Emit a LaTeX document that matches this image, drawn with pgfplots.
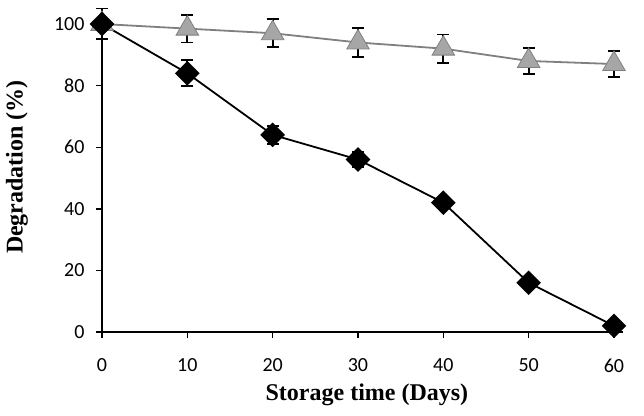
\documentclass[border=0pt]{standalone}
\usepackage{pgfplots}
\pgfplotsset{compat=1.18}
\usepackage{fontspec}
\setmainfont{Liberation Serif}
\newfontfamily\tickfont{Carlito}
\definecolor{trifill}{RGB}{166,166,166}
\definecolor{triline}{RGB}{128,128,128}

\begin{document}
\begin{tikzpicture}
\begin{axis}[
    name=ax,
    scale only axis,
    width=520.5pt, height=308pt,
    xmin=0, xmax=61, ymin=0, ymax=100,
    axis lines=left,
    axis line style={-, line width=1.4pt},
    xtick={0,10,...,60}, ytick={0,20,...,100},
    tick align=outside,
    major tick length=6pt,
    tick style={line width=1.4pt, black},
    ticklabel style={font=\tickfont\fontsize{20}{24}\selectfont, /pgf/number format/assume math mode=true},
    xticklabel style={yshift=-17pt},
    yticklabel style={xshift=-8pt},
    xlabel={Storage time (Days)},
    ylabel={Degradation (\%)},
    label style={font=\bfseries\fontsize{24}{28}\selectfont},
    xlabel style={at={(axis description cs:0.509,-0.2045)}, anchor=center},
    ylabel style={at={(axis description cs:-0.1633,0.5357)}, anchor=center},
    clip=false,
    error bars/y dir=both,
    error bars/y explicit,
    error bars/error mark=|,
    error bars/error bar style={line width=1.8pt, black},
    error bars/error mark options={line width=1.8pt, black, mark size=6pt},
]
% triangles
\addplot[color=triline, line width=1.8pt, mark=triangle*, mark size=13pt,
    mark options={fill=trifill, draw=triline, line width=0.8pt}]
  coordinates {
    (0,100) +- (0,5)
    (10,98.5) +- (0,4.5)
    (20,97) +- (0,4.5)
    (30,94) +- (0,4.7)
    (40,92) +- (0,4.6)
    (50,88) +- (0,4.3)
    (60,87) +- (0,4.2)
  };
% diamonds
\addplot[color=black, line width=1.8pt, mark=square*, mark size=7.8pt,
    mark options={rotate=45, fill=black}]
  coordinates {
    (0,100) +- (0,5)
    (10,84) +- (0,4.2)
    (20,64) +- (0,3)
    (30,56) +- (0,2.5)
    (40,42) +- (0,1.5)
    (50,16) +- (0,1)
    (60,2) +- (0,1)
  };
\end{axis}
\path (ax.south west) ++(-102pt,-83pt) rectangle ++(644pt,415pt);
\end{tikzpicture}
\end{document}
